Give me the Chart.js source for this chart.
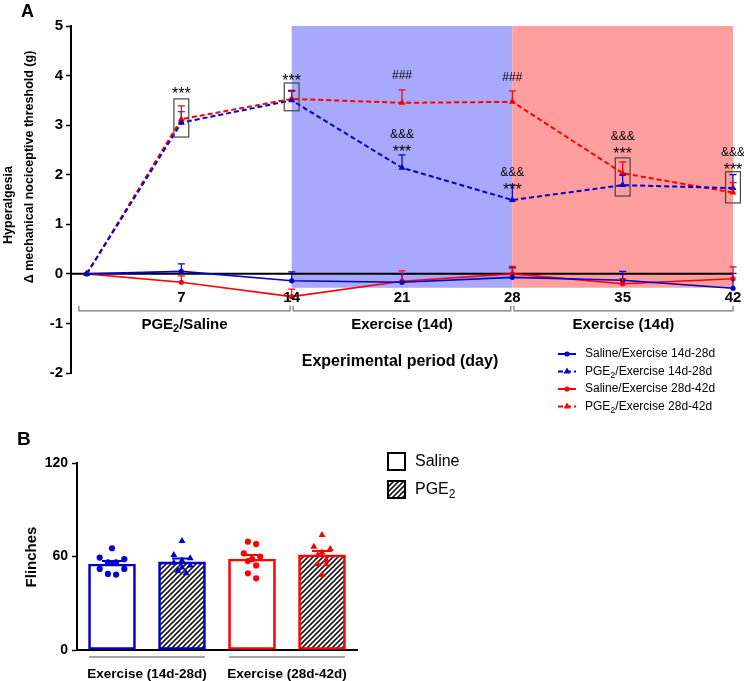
<!DOCTYPE html>
<html>
<head>
<meta charset="utf-8">
<script src="https://cdn.jsdelivr.net/npm/chart.js@4.4.1/dist/chart.umd.min.js"></script>
<style>
  html, body { margin: 0; padding: 0; background: #fff; }
  body { width: 744px; height: 681px; position: relative; overflow: hidden; }
  canvas { position: absolute; left: 0; }
  #chartA { top: 0; }
  #chartB { top: 420px; }
</style>
</head>
<body>
<canvas id="chartA" width="744" height="420"></canvas>
<canvas id="chartB" width="744" height="261"></canvas>
<script>
// ---- Panel A data (delta threshold, g; mean and SEM) ----
const days = [1, 7, 14, 21, 28, 35, 42];
const xTickDays = [7, 14, 21, 28, 35, 42];
const salineEx1428 = [0, 0.05, -0.14, -0.17, -0.07, -0.13, -0.29];
const salineEx1428Err = [0, 0.15, 0.18, 0.17, 0.19, 0.18, 0.30];
const pgeEx1428 = [0, 3.05, 3.50, 2.14, 1.49, 1.79, 1.73];
const pgeEx1428Err = [0, 0.22, 0.20, 0.26, 0.30, 0.20, 0.27];
const salineEx2842 = [0, -0.17, -0.46, -0.15, 0.00, -0.20, -0.10];
const salineEx2842Err = [0, 0.13, 0.15, 0.21, 0.15, 0.10, 0.24];
const pgeEx2842 = [0, 3.12, 3.53, 3.45, 3.47, 2.03, 1.64];
const pgeEx2842Err = [0, 0.27, 0.15, 0.26, 0.22, 0.23, 0.20];
const seriesNamesA = ['Saline/Exercise 14d-28d', 'PGE₂/Exercise 14d-28d', 'Saline/Exercise 28d-42d', 'PGE₂/Exercise 28d-42d'];

// significance marks: day, value where the lowest line sits, lines top->bottom
const sigMarks = [
  { day: 7, at: 3.71, lines: ['***'] },
  { day: 14, at: 3.97, lines: ['***'] },
  { day: 21, at: 3.99, lines: ['###'] },
  { day: 21, at: 2.54, lines: ['&&&', '***'] },
  { day: 28, at: 3.95, lines: ['###'] },
  { day: 28, at: 1.77, lines: ['&&&', '***'] },
  { day: 35, at: 2.50, lines: ['&&&', '***'] },
  { day: 42, at: 2.18, lines: ['&&&', '***'] }
];
const boxedDays = [
  { day: 7, lo: 2.76, hi: 3.53 },
  { day: 14, lo: 3.29, hi: 3.85 },
  { day: 35, lo: 1.57, hi: 2.34 },
  { day: 42, lo: 1.43, hi: 2.06 }
];
const periods = [
  { from: 0.5, to: 13.9, label: 'PGE₂/Saline' },
  { from: 14.1, to: 27.9, label: 'Exercise (14d)' },
  { from: 28.1, to: 42, label: 'Exercise (14d)' }
];
const bands = [
  { from: 14, to: 28, top: 5, bottom: -0.28, color: 'rgb(168,168,252)' },
  { from: 28, to: 42, top: 5, bottom: -0.28, color: 'rgb(255,158,158)' }
];

// ---- Panel B data (flinches) ----
const groupsB = ['Exercise (14d-28d)', 'Exercise (28d-42d)'];
const barNames = ['Saline', 'PGE₂', 'Saline', 'PGE₂'];
const barMeans = [55.2, 56.5, 58.4, 61.0];
const barSem = [1.9, 2.2, 2.6, 2.6];
const dotsSaline1428 = [65.3, 59.3, 58.3, 56.3, 56.3, 52.0, 52.0, 48.4, 48.8];
const dotsPge1428 = [70.0, 61.0, 58.9, 57.5, 56.0, 54.3, 53.0, 50.9, 49.2];
const dotsSaline2842 = [69.5, 68.0, 62.0, 60.0, 58.3, 57.1, 54.3, 49.2, 46.0];
const dotsPge2842 = [73.8, 66.3, 64.8, 62.5, 61.0, 57.8, 55.0, 55.0, 48.1];

const FONT = "'Liberation Sans', Arial, sans-serif";
const BLUE = '#0000cc';
const RED = '#ff0000';
Chart.defaults.font.family = FONT;
Chart.defaults.color = '#000';

// text with a lowered small "2" for the ₂ character
function drawSub(ctx, text, x, y, size, weight, align) {
  const parts = text.split(/(₂)/).filter(p => p);
  const big = `${weight} ${size}px ${FONT}`;
  const small = `${weight} ${Math.round(size * 0.72)}px ${FONT}`;
  let w = 0;
  parts.forEach(p => {
    ctx.font = p === '₂' ? small : big;
    w += ctx.measureText(p === '₂' ? '2' : p).width;
  });
  let cx = align === 'center' ? x - w / 2 : (align === 'right' ? x - w : x);
  ctx.textAlign = 'left';
  ctx.textBaseline = 'middle';
  parts.forEach(p => {
    const sub = p === '₂';
    const t = sub ? '2' : p;
    ctx.font = sub ? small : big;
    ctx.fillText(t, cx, sub ? y + size * 0.3 : y);
    cx += ctx.measureText(t).width;
  });
}

function drawRotated(ctx, text, x, y, font) {
  ctx.save();
  ctx.translate(x, y);
  ctx.rotate(-Math.PI / 2);
  ctx.font = font;
  ctx.textAlign = 'center';
  ctx.textBaseline = 'middle';
  ctx.fillText(text, 0, 0);
  ctx.restore();
}

// asterisks sit high in the font, so they get a bigger size and a baseline shift
function drawMark(ctx, t, x, y) {
  ctx.textAlign = 'center';
  if (t.startsWith('*')) {
    ctx.font = `16px ${FONT}`;
    ctx.textBaseline = 'alphabetic';
    ctx.fillText(t, x, y + 9);
  } else {
    ctx.font = `12px ${FONT}`;
    ctx.textBaseline = 'middle';
    ctx.fillText(t, x, y);
  }
}

// ---------------- Panel A ----------------
const panelA = {
  id: 'panelA',
  beforeDatasetsDraw(chart) {
    const { ctx, chartArea, scales: { x, y } } = chart;
    ctx.save();
    bands.forEach(b => {
      const x0 = x.getPixelForValue(b.from), x1 = x.getPixelForValue(b.to);
      const y0 = y.getPixelForValue(b.top), y1 = y.getPixelForValue(b.bottom);
      ctx.fillStyle = b.color;
      ctx.fillRect(x0, y0, x1 - x0, y1 - y0);
    });
    const yz = y.getPixelForValue(0);
    ctx.strokeStyle = '#000';
    ctx.lineWidth = 2;
    ctx.beginPath();
    ctx.moveTo(chartArea.left, yz);
    ctx.lineTo(chartArea.right, yz);
    ctx.stroke();
    ctx.restore();
  },
  afterDatasetsDraw(chart) {
    const { ctx, scales: { x, y } } = chart;
    ctx.save();
    chart.data.datasets.forEach(ds => {
      ctx.strokeStyle = ds.borderColor;
      ctx.lineWidth = 1.2;
      ds.data.forEach((p, i) => {
        const e = ds.errors[i];
        if (!e) return;
        const px = x.getPixelForValue(p.x);
        const p0 = y.getPixelForValue(p.y), p1 = y.getPixelForValue(p.y + e);
        ctx.beginPath();
        ctx.moveTo(px, p0); ctx.lineTo(px, p1);
        ctx.moveTo(px - 3.5, p1); ctx.lineTo(px + 3.5, p1);
        ctx.stroke();
      });
    });
    ctx.restore();
  },
  afterDraw(chart) {
    const { ctx, scales: { x, y } } = chart;
    ctx.save();
    ctx.fillStyle = '#000';

    // boxes round significant points
    ctx.strokeStyle = '#444';
    ctx.lineWidth = 1.2;
    boxedDays.forEach(b => {
      const x0 = x.getPixelForValue(b.day - 0.47), x1 = x.getPixelForValue(b.day + 0.47);
      const y0 = y.getPixelForValue(b.hi), y1 = y.getPixelForValue(b.lo);
      ctx.strokeRect(x0, y0, x1 - x0, y1 - y0);
    });

    // significance text
    sigMarks.forEach(m => {
      const px = x.getPixelForValue(m.day);
      const py = y.getPixelForValue(m.at);
      m.lines.forEach((t, k) => drawMark(ctx, t, px, py - (m.lines.length - 1 - k) * 13));
    });

    // x tick labels under the zero line
    const yz = y.getPixelForValue(0);
    ctx.font = `bold 15px ${FONT}`;
    ctx.textAlign = 'center';
    ctx.textBaseline = 'middle';
    xTickDays.forEach(d => ctx.fillText(String(d), x.getPixelForValue(d), yz + 24));

    // period brackets
    ctx.strokeStyle = '#777';
    ctx.lineWidth = 1.2;
    const by = yz + 37;
    periods.forEach(p => {
      const x0 = x.getPixelForValue(p.from), x1 = x.getPixelForValue(p.to);
      ctx.beginPath();
      ctx.moveTo(x0, by - 5); ctx.lineTo(x0, by); ctx.lineTo(x1, by); ctx.lineTo(x1, by - 5);
      ctx.stroke();
      drawSub(ctx, p.label, (x0 + x1) / 2, by + 14, 15, 'bold', 'center');
    });

    // axis titles
    ctx.font = `bold 16px ${FONT}`;
    ctx.textAlign = 'center';
    ctx.fillText('Experimental period (day)', 400, 362);
    drawRotated(ctx, 'Hyperalgesia', 9, 205, `bold 12.5px ${FONT}`);
    drawRotated(ctx, 'Δ mechanical nociceptive threshold (g)', 30, 167, `bold 12.5px ${FONT}`);

    // panel letter
    ctx.font = `bold 18px ${FONT}`;
    ctx.textAlign = 'left';
    ctx.textBaseline = 'alphabetic';
    ctx.fillText('A', 21, 17);

    // legend
    const rows = [354, 371.5, 389, 406.5];
    chart.data.datasets.forEach((ds, i) => {
      const ly = rows[i];
      ctx.strokeStyle = ds.borderColor;
      ctx.lineWidth = 2;
      ctx.setLineDash(ds.borderDash || []);
      ctx.beginPath(); ctx.moveTo(558, ly); ctx.lineTo(576, ly); ctx.stroke();
      ctx.setLineDash([]);
      ctx.fillStyle = ds.borderColor;
      Chart.helpers.drawPoint(ctx, { pointStyle: ds.pointStyle, radius: ds.pointRadius, rotation: 0, borderWidth: 0 }, 567, ly);
      ctx.fillStyle = '#000';
      drawSub(ctx, seriesNamesA[i], 585, ly, 12, 'normal', 'left');
    });
    ctx.restore();
  }
};

function lineSet(label, values, errors, color, dashed) {
  return {
    label,
    data: values.map((v, i) => ({ x: days[i], y: v })),
    errors,
    borderColor: color, backgroundColor: color,
    pointBackgroundColor: color, pointBorderColor: color,
    borderWidth: dashed ? 2 : 1.6,
    borderDash: dashed ? [5, 3] : [],
    pointStyle: dashed ? 'triangle' : 'circle',
    pointRadius: dashed ? 4 : 2.6,
    pointBorderWidth: 0,
    tension: 0,
    clip: false
  };
}

new Chart(document.getElementById('chartA'), {
  type: 'line',
  data: {
    datasets: [
      lineSet(seriesNamesA[0], salineEx1428, salineEx1428Err, BLUE, false),
      lineSet(seriesNamesA[1], pgeEx1428, pgeEx1428Err, BLUE, true),
      lineSet(seriesNamesA[2], salineEx2842, salineEx2842Err, RED, false),
      lineSet(seriesNamesA[3], pgeEx2842, pgeEx2842Err, RED, true)
    ]
  },
  options: {
    responsive: false,
    animation: false,
    devicePixelRatio: 1,
    layout: { padding: { top: 26, right: 11, bottom: 47, left: 0 } },
    plugins: { legend: { display: false }, tooltip: { enabled: false } },
    scales: {
      x: { type: 'linear', min: 0, max: 42, display: false },
      y: {
        min: -2, max: 5,
        afterFit(s) { s.width = 71; },
        ticks: { stepSize: 1, font: { size: 15, weight: 'bold' }, color: '#000', padding: 3 },
        grid: { drawOnChartArea: false, drawTicks: true, tickLength: 5, tickColor: '#000', tickWidth: 1.5 },
        border: { display: true, color: '#000', width: 2 }
      }
    }
  },
  plugins: [panelA]
});

// ---------------- Panel B ----------------
// scatter-dot layout: values close together share a row and are spread sideways
function swarm(values, idx) {
  const rowTol = 4, gapPx = 8.2, pxPerSlot = 70;
  const order = values.map((v, i) => i).sort((a, b) => values[b] - values[a]);
  const rows = [];
  order.forEach(i => {
    const row = rows[rows.length - 1];
    if (row && values[row[0]] - values[i] <= rowTol) row.push(i);
    else rows.push([i]);
  });
  const out = new Array(values.length);
  rows.forEach(row => {
    const n = row.length;
    // outer slots first: left, right, then inwards
    const slots = [];
    for (let a = 0, b = n - 1; a <= b; a++, b--) { slots.push(a); if (a !== b) slots.push(b); }
    row.forEach((i, k) => {
      const off = (slots[k] - (n - 1) / 2) * gapPx;
      out[i] = { x: idx + off / pxPerSlot, y: values[i] };
    });
  });
  return out;
}

const canvasB = document.getElementById('chartB');
const hatchTile = document.createElement('canvas');
hatchTile.width = 5; hatchTile.height = 5;
(() => {
  const g = hatchTile.getContext('2d');
  g.fillStyle = '#fff'; g.fillRect(0, 0, 5, 5);
  g.strokeStyle = '#1a1a1a'; g.lineWidth = 1.6;
  g.beginPath();
  g.moveTo(-1, 6); g.lineTo(6, -1);
  g.moveTo(-1, 1); g.lineTo(1, -1);
  g.moveTo(4, 6); g.lineTo(6, 4);
  g.stroke();
})();
const hatch = canvasB.getContext('2d').createPattern(hatchTile, 'repeat');
const barColors = [BLUE, BLUE, RED, RED];
const barFills = ['#fff', hatch, '#fff', hatch];

const panelB = {
  id: 'panelB',
  afterDatasetDraw(chart, args) {
    if (args.index !== 0) return;
    const { ctx, scales: { x, y } } = chart;
    ctx.save();
    ctx.lineWidth = 2;
    barMeans.forEach((m, i) => {
      const px = x.getPixelForValue(i);
      const p0 = y.getPixelForValue(m), p1 = y.getPixelForValue(m + barSem[i]);
      ctx.strokeStyle = barColors[i];
      ctx.beginPath();
      ctx.moveTo(px, p0); ctx.lineTo(px, p1);
      ctx.moveTo(px - 10, p1); ctx.lineTo(px + 10, p1);
      ctx.stroke();
    });
    ctx.restore();
  },
  afterDraw(chart) {
    const { ctx, scales: { x } } = chart;
    ctx.save();
    ctx.fillStyle = '#000';
    // group labels with lines
    groupsB.forEach((g, k) => {
      const x0 = x.getPixelForValue(2 * k) - 23, x1 = x.getPixelForValue(2 * k + 1) + 23;
      ctx.strokeStyle = '#888';
      ctx.lineWidth = 1.5;
      ctx.beginPath(); ctx.moveTo(x0, 237); ctx.lineTo(x1, 237); ctx.stroke();
      ctx.font = `bold 13.5px ${FONT}`;
      ctx.textAlign = 'center';
      ctx.textBaseline = 'middle';
      ctx.fillText(g, (x0 + x1) / 2, 254);
    });
    drawRotated(ctx, 'Flinches', 32, 137, `bold 15px ${FONT}`);
    ctx.font = `bold 19px ${FONT}`;
    ctx.textAlign = 'left';
    ctx.textBaseline = 'alphabetic';
    ctx.fillText('B', 17, 25);

    // legend
    [{ fill: '#fff', y: 33 }, { fill: hatch, y: 61 }].forEach((r, k) => {
      ctx.fillStyle = r.fill;
      ctx.fillRect(388, r.y, 17, 17);
      ctx.strokeStyle = '#000';
      ctx.lineWidth = 2;
      ctx.strokeRect(388, r.y, 17, 17);
      ctx.fillStyle = '#000';
      drawSub(ctx, barNames[k], 415, r.y + 9, 16, 'normal', 'left');
    });
    ctx.restore();
  }
};

function dotSet(values, idx, color, style) {
  return {
    type: 'scatter',
    order: 1,
    data: swarm(values, idx),
    pointStyle: style,
    pointRadius: style === 'triangle' ? 4 : 3.1,
    pointBackgroundColor: color, pointBorderColor: color, pointBorderWidth: 0,
    clip: false
  };
}

new Chart(canvasB, {
  type: 'bar',
  data: {
    datasets: [
      {
        order: 2,
        data: barMeans.map((m, i) => ({ x: i, y: m })),
        backgroundColor: barFills,
        borderColor: barColors,
        borderWidth: 2.6,
        borderSkipped: false,
        barThickness: 47,
        grouped: false
      },
      dotSet(dotsSaline1428, 0, BLUE, 'circle'),
      dotSet(dotsPge1428, 1, BLUE, 'triangle'),
      dotSet(dotsSaline2842, 2, RED, 'circle'),
      dotSet(dotsPge2842, 3, RED, 'triangle')
    ]
  },
  options: {
    responsive: false,
    animation: false,
    devicePixelRatio: 1,
    layout: { padding: { top: 43, right: 387, bottom: 31, left: 0 } },
    plugins: { legend: { display: false }, tooltip: { enabled: false } },
    scales: {
      x: {
        type: 'linear', min: -0.5, max: 3.5, offset: false,
        afterFit(s) { s.height = 0; },
        ticks: { display: false },
        grid: { display: false, drawTicks: false },
        border: { display: true, color: '#000', width: 2 }
      },
      y: {
        min: 0, max: 120,
        afterFit(s) { s.width = 77; },
        ticks: { stepSize: 60, font: { size: 14, weight: 'bold' }, color: '#000', padding: 4 },
        grid: { drawOnChartArea: false, drawTicks: true, tickLength: 5, tickColor: '#000', tickWidth: 1.5 },
        border: { display: true, color: '#000', width: 2 }
      }
    }
  },
  plugins: [panelB]
});
</script>
</body>
</html>
